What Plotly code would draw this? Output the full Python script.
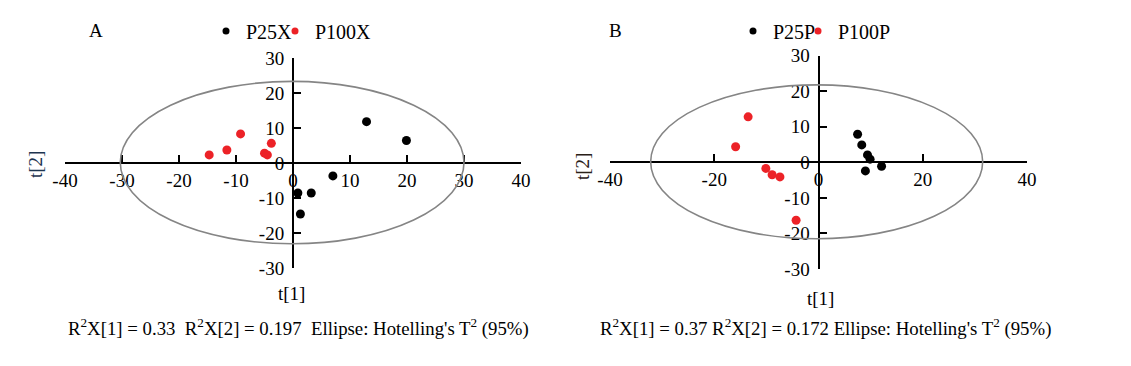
import plotly.graph_objects as go

# ---------------- data ----------------
# Panel A
p25x_t1 = [12.9, 19.9, 7.0, 0.85, 3.2, 1.3]
p25x_t2 = [11.9, 6.5, -3.6, -8.5, -8.5, -14.5]
p100x_t1 = [-14.7, -11.6, -9.2, -5.0, -4.5, -3.8]
p100x_t2 = [2.4, 3.8, 8.4, 2.9, 2.4, 5.7]
# Panel B
p25p_t1 = [7.5, 8.3, 9.4, 9.9, 12.1, 9.0]
p25p_t2 = [7.9, 4.9, 2.1, 0.9, -1.1, -2.4]
p100p_t1 = [-13.5, -15.9, -10.1, -8.9, -7.4, -4.3]
p100p_t2 = [12.8, 4.4, -1.7, -3.5, -4.1, -16.3]

# Hotelling's T2 ellipse extents [x_min, x_max, y_min, y_max]
ellipse_a = [-30.3, 30.0, -23.0, 23.4]
ellipse_b = [-32.2, 31.5, -21.5, 21.8]

x_ticks = [-40, -30, -20, -10, 0, 10, 20, 30, 40]
x_labels = ["-40", "-30", "-20", "-10", "0", "10", "20", "30", "40"]
x_ticks_b = [-40, -20, 0, 20, 40]
x_labels_b = ["-40", "-20", "0", "20", "40"]
y_ticks = [-30, -20, -10, 0, 10, 20, 30]
y_labels = ["-30", "-20", "-10", "0", "10", "20", "30"]
x_range = [-40, 40]
y_range = [-30, 30]

caption_a = "R<sup>2</sup>X[1] = 0.33  R<sup>2</sup>X[2] = 0.197  Ellipse: Hotelling's T<sup>2</sup> (95%)"
caption_b = "R<sup>2</sup>X[1] = 0.37 R<sup>2</sup>X[2] = 0.172 Ellipse: Hotelling's T<sup>2</sup> (95%)"

# ---------------- style ----------------
W, H = 1131, 366
FONT = "Liberation Serif"
BLACK = "#000000"
RED = "#ec2227"
GREY = "#858585"

dom_a_x = [65 / W, 521 / W]
dom_a_y = [(H - 268.3) / H, (H - 58.3) / H]
dom_b_x = [610 / W, 1027 / W]
dom_b_y = [(H - 269) / H, (H - 55.7) / H]


def mid(d):
    return (d[0] + d[1]) / 2


fig = go.Figure()

# data points
fig.add_trace(go.Scatter(x=p25x_t1, y=p25x_t2, mode="markers", xaxis="x", yaxis="y",
                         marker=dict(color=BLACK, size=9), showlegend=False, name="P25X"))
fig.add_trace(go.Scatter(x=p100x_t1, y=p100x_t2, mode="markers", xaxis="x", yaxis="y",
                         marker=dict(color=RED, size=9), showlegend=False, name="P100X"))
fig.add_trace(go.Scatter(x=p25p_t1, y=p25p_t2, mode="markers", xaxis="x2", yaxis="y2",
                         marker=dict(color=BLACK, size=9), showlegend=False, name="P25P"))
fig.add_trace(go.Scatter(x=p100p_t1, y=p100p_t2, mode="markers", xaxis="x2", yaxis="y2",
                         marker=dict(color=RED, size=9), showlegend=False, name="P100P"))

# legend entries (smaller symbols, tight spacing like the reference)
for name, col, ax, ay, leg, lw in [("P25X", BLACK, "x", "y", "legend", 24),
                                   ("P100X", RED, "x", "y", "legend", None),
                                   ("P25P", BLACK, "x2", "y2", "legend2", 20),
                                   ("P100P", RED, "x2", "y2", "legend2", None)]:
    tr = go.Scatter(x=[None], y=[None], mode="markers", xaxis=ax, yaxis=ay,
                    marker=dict(color=col, size=7), name=name, legend=leg)
    if lw is not None:
        tr.legendwidth = lw
    fig.add_trace(tr)

axis_common = dict(showgrid=False, zeroline=False, showline=True, linecolor=BLACK, linewidth=2,
                   ticks="inside", ticklen=7, tickwidth=2, tickcolor=BLACK,
                   tickfont=dict(family=FONT, size=19, color=BLACK), fixedrange=True)

legend_common = dict(orientation="h", xanchor="left", y=1 - 31 / H, yanchor="middle",
                     font=dict(family=FONT, size=20, color=BLACK), bgcolor="rgba(0,0,0,0)",
                     itemclick=False, itemdoubleclick=False)

fig.update_layout(
    width=W, height=H,
    margin=dict(l=0, r=0, t=0, b=0, pad=0, autoexpand=False),
    paper_bgcolor="white", plot_bgcolor="white",
    font=dict(family=FONT, size=19, color=BLACK),
    xaxis=dict(domain=dom_a_x, range=x_range, tickvals=x_ticks, ticktext=x_labels, anchor="free",
               position=mid(dom_a_y), side="bottom", **axis_common),
    yaxis=dict(domain=dom_a_y, range=y_range, tickvals=y_ticks, ticktext=y_labels, anchor="free",
               position=mid(dom_a_x), side="left", ticklabelstandoff=4, **axis_common),
    xaxis2=dict(domain=dom_b_x, range=x_range, tickvals=x_ticks_b, ticktext=x_labels_b, anchor="free",
                position=mid(dom_b_y), side="bottom", **axis_common),
    yaxis2=dict(domain=dom_b_y, range=y_range, tickvals=y_ticks, ticktext=y_labels, anchor="free",
                position=mid(dom_b_x), side="left", ticklabelstandoff=4, **axis_common),
    legend=dict(x=206 / W, **legend_common),
    legend2=dict(x=733 / W, **legend_common),
)

# ellipses
for e, ax, ay in [(ellipse_a, "x", "y"), (ellipse_b, "x2", "y2")]:
    fig.add_shape(type="circle", xref=ax, yref=ay, x0=e[0], x1=e[1], y0=e[2], y1=e[3],
                  line=dict(color=GREY, width=1.6), layer="above")

# text annotations
ann = [
    dict(text="A", x=96 / W, y=1 - 31 / H, size=19, color=BLACK, angle=0),
    dict(text="B", x=615 / W, y=1 - 31 / H, size=19, color=BLACK, angle=0),
    dict(text="t[2]", x=36 / W, y=1 - 165 / H, size=19, color="#1e3550", angle=-90),
    dict(text="t[2]", x=583 / W, y=1 - 167 / H, size=19, color="#2a2018", angle=-90),
    dict(text="t[1]", x=mid(dom_a_x) - 2 / W, y=1 - 293 / H, size=19, color=BLACK, angle=0),
    dict(text="t[1]", x=mid(dom_b_x) + 2 / W, y=1 - 298 / H, size=19, color=BLACK, angle=0),
    dict(text=caption_a, x=298 / W, y=1 - 327 / H, size=18.8, color=BLACK, angle=0),
    dict(text=caption_b, x=825 / W, y=1 - 327 / H, size=18.8, color=BLACK, angle=0),
]
for a in ann:
    fig.add_annotation(text=a["text"], x=a["x"], y=a["y"], xref="paper", yref="paper",
                       xanchor="center", yanchor="middle", showarrow=False, textangle=a["angle"],
                       font=dict(family=FONT, size=a["size"], color=a["color"]))

# remove the default page margin so the figure sits at the window's top-left corner
fig.write_html("out.html", config={"displayModeBar": False},
               post_script="document.body.style.margin='0';")
